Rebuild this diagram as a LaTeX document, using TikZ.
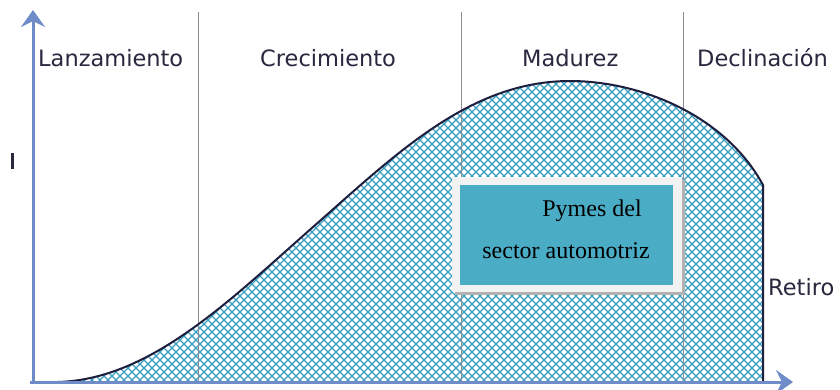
\documentclass[tikz,border=0pt]{standalone}
\usepackage{fontspec}
\setmainfont{Liberation Serif}
\newfontfamily\labelfont{DejaVu Sans}
\usetikzlibrary{arrows.meta}
\definecolor{axisblue}{RGB}{112,140,200}
\definecolor{hatchcol}{RGB}{55,158,192}
\definecolor{curvecol}{RGB}{30,30,62}
\definecolor{boxteal}{RGB}{75,172,198}
\definecolor{framegray}{RGB}{242,242,242}
\definecolor{txtcol}{RGB}{40,40,62}
\definecolor{sepgray}{RGB}{140,140,150}
\tikzset{
  phaselabel/.style={anchor=base west, inner sep=0pt, text=txtcol, font=\labelfont\fontsize{22.5}{26}\selectfont},
  boxtext/.style={anchor=base, inner sep=0pt, text=black, font=\fontsize{24}{28}\selectfont},
  axisline/.style={draw=axisblue, line width=3pt, -{Stealth[length=17pt,width=24pt,inset=6pt]}},
  sepline/.style={draw=sepgray, line width=0.8pt},
  hatchline/.style={draw=hatchcol, line width=1.1pt},
  curveline/.style={draw=curvecol, line width=2pt, line join=round}
}
\begin{document}
\begin{tikzpicture}[x=1pt,y=-1pt]
\useasboundingbox (0,0) rectangle (840,389);
\fill[white] (0,0) rectangle (840,389);
% hatch under curve
\begin{scope}
\clip (57,382) .. controls (150,380) and (230,300) .. (313,227)
  .. controls (396,154) and (470,81) .. (570,81)
  .. controls (640,81) and (725,115) .. (763,185) -- (763,382) -- cycle;
\foreach \k in {0,8,...,1200} {
  \draw[hatchline] (\k,0) -- ++(-400,400);
  \draw[hatchline] (\k-400,0) -- ++(400,400);
}
\end{scope}
% separators
\coordinate (s1t) at (198,12); \coordinate (s1b) at (198,382);
\coordinate (s2t) at (461,12); \coordinate (s2b) at (461,382);
\coordinate (s3t) at (683,12); \coordinate (s3b) at (683,382);
\draw[sepline] (s1t) -- (s1b);
\draw[sepline] (s2t) -- (s2b);
\draw[sepline] (s3t) -- (s3b);
% curve outline
\draw[curveline] (57,382) .. controls (150,380) and (230,300) .. (313,227)
  .. controls (396,154) and (470,81) .. (570,81)
  .. controls (640,81) and (725,115) .. (763,185) -- (763,382);
% axes
\coordinate (origin) at (33,384);
\coordinate (ytop) at (33,10);
\coordinate (xright) at (793,382);
\coordinate (xstart) at (30,382);
\draw[axisline] (origin) -- (ytop);
\draw[axisline] (xstart) -- (xright);
% truncated axis label mark
\fill[txtcol] (11,153) rectangle (14,169);
% labels
\node[phaselabel] (lanz) at (38,66) {Lanzamiento};
\node[phaselabel] (crec) at (260,66) {Crecimiento};
\node[phaselabel] (madu) at (522,66) {Madurez};
\node[phaselabel] (decl) at (697,66) {Declinación};
\node[phaselabel] (reti) at (768,295) {Retiro};
% box
\fill[gray!60] (455,180) rectangle (685,295);
\fill[framegray] (452,177) rectangle (682,292);
\fill[boxteal] (460,185) rectangle (673,285);
\node[boxtext] (pymes) at (592,216) {Pymes del};
\node[boxtext] (sector) at (566,258) {sector automotriz};
\end{tikzpicture}
\end{document}
